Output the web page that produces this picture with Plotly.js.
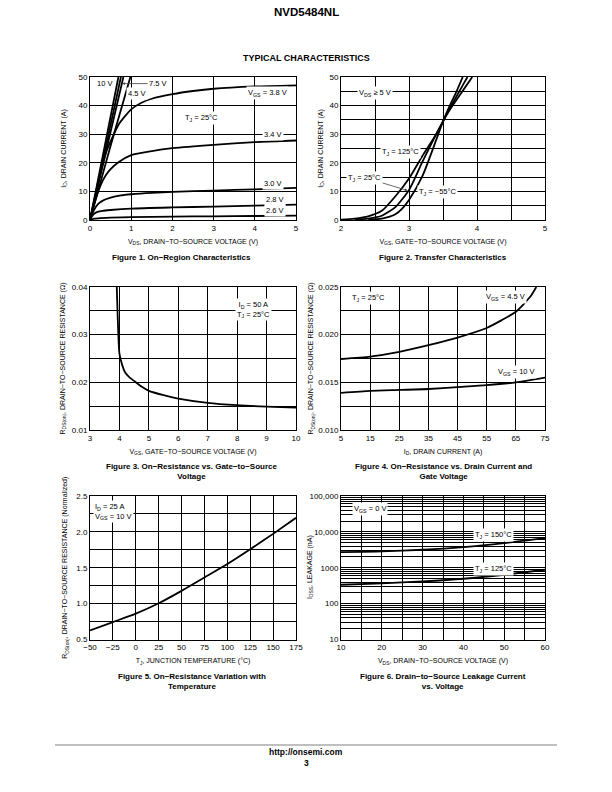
<!DOCTYPE html>
<html>
<head>
<meta charset="utf-8">
<script src="https://cdn.plot.ly/plotly-3.0.1.min.js"></script>
<style>html,body{margin:0;padding:0;background:#fff;}#chart{width:612px;height:792px;}</style>
</head>
<body>
<div id="chart"></div>
<script>
// ---------- Figure 1: On-Region Characteristics ----------
const f1_vds_10v = [0, 0.69];
const f1_id_10v = [0, 50];
const f1_vds_75v = [0, 0.75];
const f1_id_75v = [0, 50];
const f1_vds_mid = [0, 0.81];
const f1_id_mid = [0, 50];
const f1_vds_45v = [0, 0.5, 0.98];
const f1_id_45v = [0, 26, 50];
const f1_vds_38v = [0, 0.1, 0.2, 0.3, 0.4, 0.5, 0.7, 1, 1.25, 1.5, 2, 2.5, 3, 4, 5];
const f1_id_38v = [0, 6.5, 13, 19, 24, 27.5, 33.5, 38.7, 41, 42.4, 44, 45.1, 45.9, 46.7, 47.1];
const f1_vds_34v = [0, 0.1, 0.2, 0.3, 0.4, 0.5, 0.7, 1, 1.5, 2, 3, 4, 5];
const f1_id_34v = [0, 5.5, 10, 13.5, 16, 17.8, 20.3, 22.7, 24.1, 25.1, 26.3, 27.2, 27.8];
const f1_vds_30v = [0, 0.05, 0.1, 0.2, 0.3, 0.5, 0.75, 1, 1.5, 2, 3, 4, 5];
const f1_id_30v = [0, 2, 3.6, 5.6, 6.7, 7.8, 8.6, 9.0, 9.5, 9.8, 10.3, 10.7, 11.2];
const f1_vds_28v = [0, 0.05, 0.1, 0.2, 0.3, 0.5, 1, 2, 3, 4, 5];
const f1_id_28v = [0, 1.3, 2.2, 2.9, 3.2, 3.5, 4.0, 4.4, 4.7, 5.0, 5.4];
const f1_vds_26v = [0, 0.1, 0.2, 0.5, 1, 2, 3, 4, 5];
const f1_id_26v = [0, 0.45, 0.6, 0.8, 1.0, 1.2, 1.3, 1.4, 1.5];

// ---------- Figure 2: Transfer Characteristics ----------
const f2_vgs_125 = [2.0, 2.2, 2.4, 2.6, 2.8, 3.0, 3.2, 3.4, 3.5, 3.6, 3.8, 3.93];
const f2_id_125 = [0.1, 0.5, 1.3, 3.2, 8.3, 14.5, 22.5, 30, 34.5, 38.5, 45.5, 50];
const f2_vgs_25 = [2.2, 2.4, 2.6, 2.8, 3.0, 3.2, 3.4, 3.5, 3.6, 3.8, 3.86];
const f2_id_25 = [0.1, 0.5, 1.5, 4.5, 10.5, 20.5, 30, 34.5, 39, 47.5, 50];
const f2_vgs_m55 = [2.4, 2.6, 2.8, 2.9, 3.0, 3.2, 3.4, 3.5, 3.6, 3.7, 3.79];
const f2_id_m55 = [0.1, 0.5, 2, 4, 7, 15.5, 28, 34.5, 40, 45, 50];

// ---------- Figure 3: On-Resistance vs. Gate-to-Source Voltage ----------
const f3_vgs = [3.91, 3.94, 3.97, 4.0, 4.1, 4.2, 4.35, 4.5, 4.75, 5, 5.5, 6, 7, 8, 9, 10];
const f3_rds = [0.04, 0.034, 0.029, 0.026, 0.0235, 0.022, 0.021, 0.0203, 0.0191, 0.0182, 0.0173, 0.0166, 0.0157, 0.0152, 0.0149, 0.0147];

// ---------- Figure 4: On-Resistance vs. Drain Current ----------
const f4_id_45v = [5, 15, 25, 35, 45, 55, 60, 65, 70, 72];
const f4_rds_45v = [0.01745, 0.0177, 0.0182, 0.0189, 0.0197, 0.0207, 0.0215, 0.0224, 0.0240, 0.025];
const f4_id_10v = [5, 15, 25, 35, 45, 55, 65, 75];
const f4_rds_10v = [0.0139, 0.0141, 0.0142, 0.0143, 0.0145, 0.0147, 0.0150, 0.0155];

// ---------- Figure 5: On-Resistance vs. Temperature ----------
const f5_tj = [-50, -25, 0, 25, 50, 75, 100, 125, 150, 175];
const f5_rnorm = [0.626, 0.743, 0.86, 1.005, 1.178, 1.364, 1.551, 1.757, 1.972, 2.196];

// ---------- Figure 6: Leakage Current vs. Voltage ----------
const f6_vds = [10, 20, 30, 40, 50, 60];
const f6_idss_150 = [2735, 2860, 3180, 3775, 4880, 6730];
const f6_idss_125 = [336, 366, 416, 493, 638, 879];
const f6_tickvals = [10, 100, 1000, 10000, 100000];
const f6_ticktext = ['10', '100', '1000', '10,000', '100,000'];

// ---------- layout helpers ----------
const W = 612, H = 792;
const FONT = 'Liberation Sans, Arial, Helvetica, sans-serif';
const xd = (a, b) => [a / W, b / W];
const yd = (top, bot) => [1 - bot / H, 1 - top / H];
const LINE = {color: '#000', width: 1.8, shape: 'spline', smoothing: 0.6};

function axis(extra) {
  return Object.assign({
    showline: true, mirror: true, linecolor: '#000', linewidth: 1,
    showgrid: true, gridcolor: '#000', gridwidth: 1,
    zeroline: false, ticks: '', fixedrange: true,
    tickfont: {family: FONT, size: 8, color: '#000'},
  }, extra);
}
function title(t, standoff) {
  return {text: t, font: {family: FONT, size: 7, color: '#000'}, standoff: standoff};
}
const minorGrid = (d) => ({dtick: d, showgrid: true, gridcolor: '#000', gridwidth: 1, ticks: ''});

function tr(x, y, xa, ya, name) {
  return {x: x, y: y, xaxis: xa, yaxis: ya, type: 'scatter', mode: 'lines', line: LINE, name: name, showlegend: false, hoverinfo: 'skip'};
}

const traces = [
  tr(f1_vds_10v, f1_id_10v, 'x', 'y', '10 V'),
  tr(f1_vds_75v, f1_id_75v, 'x', 'y', '7.5 V'),
  tr(f1_vds_mid, f1_id_mid, 'x', 'y', 'mid'),
  tr(f1_vds_45v, f1_id_45v, 'x', 'y', '4.5 V'),
  tr(f1_vds_38v, f1_id_38v, 'x', 'y', '3.8 V'),
  tr(f1_vds_34v, f1_id_34v, 'x', 'y', '3.4 V'),
  tr(f1_vds_30v, f1_id_30v, 'x', 'y', '3.0 V'),
  tr(f1_vds_28v, f1_id_28v, 'x', 'y', '2.8 V'),
  tr(f1_vds_26v, f1_id_26v, 'x', 'y', '2.6 V'),
  tr(f2_vgs_125, f2_id_125, 'x2', 'y2', '125'),
  tr(f2_vgs_25, f2_id_25, 'x2', 'y2', '25'),
  tr(f2_vgs_m55, f2_id_m55, 'x2', 'y2', '-55'),
  tr(f3_vgs, f3_rds, 'x3', 'y3', 'rds'),
  tr(f4_id_45v, f4_rds_45v, 'x4', 'y4', '4.5 V'),
  tr(f4_id_10v, f4_rds_10v, 'x4', 'y4', '10 V'),
  tr(f5_tj, f5_rnorm, 'x5', 'y5', 'norm'),
  tr(f6_vds, f6_idss_150, 'x6', 'y6', '150'),
  tr(f6_vds, f6_idss_125, 'x6', 'y6', '125'),
];

function lab(xr, yr, x, y, text, extra) {
  return Object.assign({xref: xr, yref: yr, x: x, y: y, text: text, showarrow: false,
    font: {family: FONT, size: 7.5, color: '#000'}, bgcolor: '#fff', borderpad: 1}, extra || {});
}
function pap(x, y, text, size, extra) {
  return Object.assign({xref: 'paper', yref: 'paper', x: x / W, y: 1 - y / H, text: text, showarrow: false,
    font: {family: FONT, size: size, color: '#000'}, xanchor: 'center', yanchor: 'middle'}, extra || {});
}

const annotations = [
  pap(306, 12, '<b>NVD5484NL</b>', 11.5),
  pap(306, 58, '<b>TYPICAL CHARACTERISTICS</b>', 9),
  pap(181, 257, '<b>Figure 1. On−Region Characteristics</b>', 8),
  pap(443, 257, '<b>Figure 2. Transfer Characteristics</b>', 8),
  pap(192, 472, '<b>Figure 3. On−Resistance vs. Gate−to−Source<br>Voltage</b>', 8),
  pap(443, 472, '<b>Figure 4. On−Resistance vs. Drain Current and<br>Gate Voltage</b>', 8),
  pap(192, 681, '<b>Figure 5. On−Resistance Variation with<br>Temperature</b>', 8),
  pap(443, 681, '<b>Figure 6. Drain−to−Source Leakage Current<br>vs. Voltage</b>', 8),
  pap(306, 752, '<b>http://onsemi.com</b>', 8.5),
  pap(306, 763, '<b>3</b>', 8.5),
  // fig 6 y-axis title (placed close to tick labels as in the reference)
  pap(310, 567, 'I<sub>DSS</sub>, LEAKAGE (nA)', 7, {textangle: -90}),
  // fig 1 labels
  lab('x', 'y', 0.36, 47.8, '10 V'),
  lab('x', 'y', 0.78, 47.7, '7.5 V', {showarrow: true, arrowhead: 2, arrowsize: 0.7, arrowwidth: 0.8, ax: 36, ay: 0}),
  lab('x', 'y', 1.15, 44.3, '4.5 V'),
  lab('x', 'y', 4.3, 44.3, 'V<sub>GS</sub> = 3.8 V'),
  lab('x', 'y', 2.71, 35.5, 'T<sub>J</sub> = 25°C'),
  lab('x', 'y', 4.45, 29.8, '3.4 V'),
  lab('x', 'y', 4.45, 12.8, '3.0 V'),
  lab('x', 'y', 4.49, 7.3, '2.8 V'),
  lab('x', 'y', 4.49, 3.3, '2.6 V'),
  // fig 2 labels
  lab('x2', 'y2', 2.5, 44.3, 'V<sub>DS</sub> ≥ 5 V'),
  lab('x2', 'y2', 2.87, 23.8, 'T<sub>J</sub> = 125°C'),
  lab('x2', 'y2', 2.98, 10.3, 'T<sub>J</sub> = 25°C', {showarrow: true, arrowhead: 2, arrowsize: 0.7, arrowwidth: 0.8, ax: -43, ay: -13}),
  lab('x2', 'y2', 3.42, 9.8, 'T<sub>J</sub> = −55°C'),
  // fig 3
  lab('x3', 'y3', 8.55, 0.0353, 'I<sub>D</sub> = 50 A<br>T<sub>J</sub> = 25°C'),
  // fig 4
  lab('x4', 'y4', 14.4, 0.0238, 'T<sub>J</sub> = 25°C'),
  lab('x4', 'y4', 61.3, 0.0239, 'V<sub>GS</sub> = 4.5 V'),
  lab('x4', 'y4', 65.3, 0.0161, 'V<sub>GS</sub> = 10 V'),
  // fig 5
  lab('x5', 'y5', -24, 2.28, 'I<sub>D</sub> = 25 A<br>V<sub>GS</sub> = 10 V', {align: 'left'}),
  // fig 6
  lab('x6', 'y6', 17.1, Math.log10(42300), 'V<sub>GS</sub> = 0 V'),
  lab('x6', 'y6', 47.3, Math.log10(7940), 'T<sub>J</sub> = 150°C'),
  lab('x6', 'y6', 47.3, Math.log10(938), 'T<sub>J</sub> = 125°C'),
];

const layout = {
  width: W, height: H, margin: {l: 0, r: 0, t: 0, b: 0},
  paper_bgcolor: '#fff', plot_bgcolor: '#fff', showlegend: false,
  font: {family: FONT, color: '#000'},
  // fig 1
  xaxis: axis({domain: xd(90, 296), anchor: 'y', range: [0, 5], tick0: 0, dtick: 1,
    title: title('V<sub>DS</sub>, DRAIN−TO−SOURCE VOLTAGE (V)', 7)}),
  yaxis: axis({domain: yd(77, 220), anchor: 'x', range: [0, 50], tick0: 0, dtick: 10,
    title: title('I<sub>D</sub>, DRAIN CURRENT (A)', 11)}),
  // fig 2
  xaxis2: axis({domain: xd(341, 545), anchor: 'y2', range: [2, 5], tick0: 2, dtick: 1, minor: minorGrid(0.5),
    title: title('V<sub>GS</sub>, GATE−TO−SOURCE VOLTAGE (V)', 7)}),
  yaxis2: axis({domain: yd(77, 220), anchor: 'x2', range: [0, 50], tick0: 0, dtick: 10, minor: minorGrid(5),
    title: title('I<sub>D</sub>, DRAIN CURRENT (A)', 5)}),
  // fig 3
  xaxis3: axis({domain: xd(90, 296), anchor: 'y3', range: [3, 10], tick0: 3, dtick: 1,
    title: title('V<sub>GS</sub>, GATE−TO−SOURCE VOLTAGE (V)', 7)}),
  yaxis3: axis({domain: yd(287, 430), anchor: 'x3', range: [0.01, 0.04], tick0: 0.01, dtick: 0.01, tickformat: '.2f', minor: minorGrid(0.005),
    title: title('R<sub>DS(on)</sub>, DRAIN−TO−SOURCE RESISTANCE (Ω)', 5)}),
  // fig 4
  xaxis4: axis({domain: xd(341, 545), anchor: 'y4', range: [5, 75], tick0: 5, dtick: 10,
    title: title('I<sub>D</sub>, DRAIN CURRENT (A)', 7)}),
  yaxis4: axis({domain: yd(287, 430), anchor: 'x4', range: [0.010, 0.025], tick0: 0.01, dtick: 0.005, tickformat: '.3f', minor: minorGrid(0.0025),
    title: title('R<sub>DS(on)</sub>, DRAIN−TO−SOURCE RESISTANCE (Ω)', 3)}),
  // fig 5
  xaxis5: axis({domain: xd(90, 296), anchor: 'y5', range: [-50, 175], tick0: -50, dtick: 25,
    title: title('T<sub>J</sub>, JUNCTION TEMPERATURE (°C)', 7)}),
  yaxis5: axis({domain: yd(496, 639.5), anchor: 'x5', range: [0.5, 2.5], tick0: 0.5, dtick: 0.5, tickformat: '.1f', minor: minorGrid(0.25),
    title: title('R<sub>DS(on)</sub>, DRAIN−TO−SOURCE RESISTANCE (Normalized)', 7)}),
  // fig 6
  xaxis6: axis({domain: xd(341, 545), anchor: 'y6', range: [10, 60], tick0: 10, dtick: 10, minor: minorGrid(5),
    title: title('V<sub>DS</sub>, DRAIN−TO−SOURCE VOLTAGE (V)', 7)}),
  yaxis6: axis({domain: yd(496, 639.5), anchor: 'x6', type: 'log', range: [1, 5], tickmode: 'array',
    tickvals: f6_tickvals, ticktext: f6_ticktext,
    minor: {dtick: 'D1', showgrid: true, gridcolor: '#000', gridwidth: 1, ticks: ''}}),
  annotations: annotations,
  shapes: [
    {type: 'line', xref: 'paper', yref: 'paper', x0: 55 / W, x1: 557 / W, y0: 1 - 745 / H, y1: 1 - 745 / H,
     line: {color: '#aaa', width: 1.5}},
  ],
};

Plotly.newPlot('chart', traces, layout, {staticPlot: true, displayModeBar: false});
</script>
</body>
</html>
